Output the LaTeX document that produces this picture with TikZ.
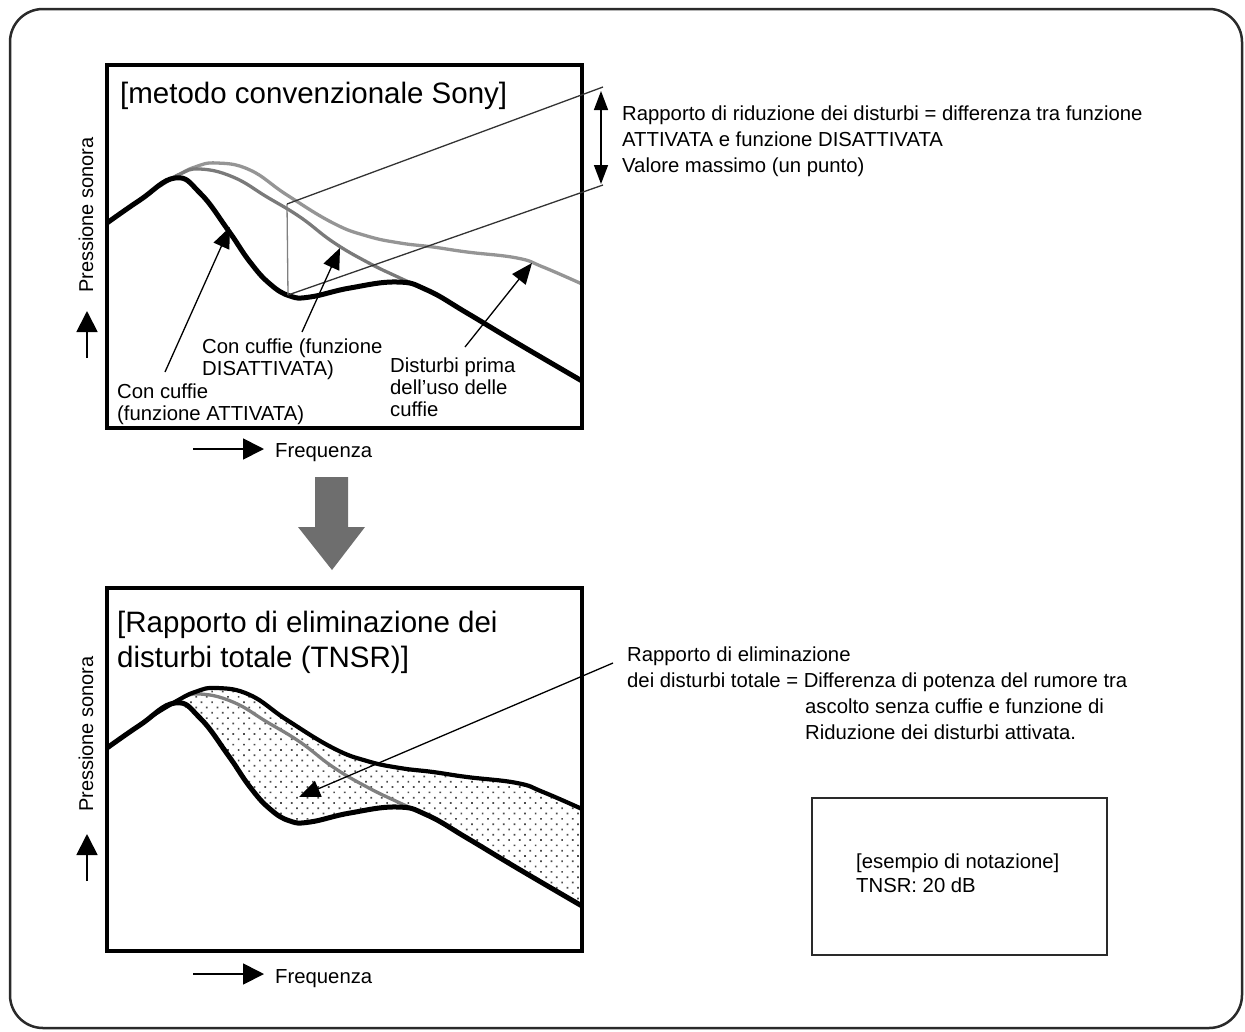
\documentclass[tikz,border=0pt]{standalone}
\usepackage{fontspec}
\setmainfont{Liberation Sans}
\usetikzlibrary{arrows.meta,patterns.meta}
\definecolor{offgray}{HTML}{7A7A7A}
\definecolor{noisegray}{HTML}{959595}
\definecolor{bigarrowgray}{HTML}{6E6E6E}
\definecolor{framegray}{HTML}{2A2A2A}
\begin{document}
\begin{tikzpicture}[x=1pt,y=-1pt,
  txt/.style={font=\fontsize{20.3}{24}\selectfont, inner sep=0pt, anchor=base west},
  ttl/.style={font=\fontsize{29.5}{35}\selectfont, inner sep=0pt, anchor=base west},
  ylab/.style={font=\fontsize{20}{24}\selectfont, inner sep=0pt, rotate=90},
  chartframe/.style={line width=4pt},
  oncurve/.style={line width=5pt, line join=round},
  offcurve/.style={line width=3.3pt, color=offgray},
  noisecurve/.style={line width=3.3pt, color=noisegray},
  ptr/.style={line width=1.3pt, -{Triangle[length=21pt,width=17pt]}},
  axarrow/.style={line width=1.8pt, -{Triangle[length=21pt,width=21pt]}},
  ann/.style={line width=1.3pt, color=black!80},
  sm/.style={smooth, tension=0.75},
]
\useasboundingbox (0,0) rectangle (1245,1031);
% outer frame
\draw[line width=2.5pt, color=framegray, rounded corners=33pt] (10,9) rectangle (1242,1028);

% ---------------- top chart ----------------
\draw[noisecurve] plot[sm] coordinates {(150,192) (175,177) (195,167) (217,163) (250,170) (287,195) (333,223) (367,236) (400,243) (433,247) (467,252) (517,258) (543,267) (582,284)};
\draw[offcurve] plot[sm] coordinates {(160,186) (180,174) (200,169) (233,177) (267,197) (300,217) (333,242) (367,262) (400,278) (433,293) (467,313) (517,343) (582,381)};
\draw[oncurve] plot[sm] coordinates {(107,223) (140,200) (175,178) (200,193) (228,230) (250,262) (270,284) (290,296) (310,297) (350,288) (397,282) (427,290) (467,313) (517,343) (582,381)};
\draw[chartframe] (107,65) rectangle (582,428);

\node[ttl] (title1) at (120,103) {[metodo convenzionale Sony]};

% annotation of max difference
\coordinate (vtop) at (287,204);
\coordinate (vbot) at (288,295);
\coordinate (dtop) at (603,87);
\coordinate (dbot) at (603,185);
\draw[line width=1.3pt, color=gray] (vtop) -- (vbot);
\draw[ann] (vtop) -- (dtop);
\draw[ann] (vbot) -- (dbot);
\coordinate (da1) at (601,91);
\coordinate (da2) at (601,184);
\draw[line width=1.5pt, {Triangle[length=19pt,width=14pt]}-{Triangle[length=19pt,width=14pt]}] (da1) -- (da2);

\node[txt] (r1) at (622,120) {Rapporto di riduzione dei disturbi = differenza tra funzione};
\node[txt] (r2) at (622,146) {ATTIVATA e funzione DISATTIVATA};
\node[txt] (r3) at (622,172) {Valore massimo (un punto)};

% pointers
\node[txt] (on1) at (117,398) {Con cuffie};
\node[txt] (on2) at (117,420) {(funzione ATTIVATA)};
\node[txt] (off1) at (202,353) {Con cuffie (funzione};
\node[txt] (off2) at (202,375) {DISATTIVATA)};
\node[txt] (nb1) at (390,372) {Disturbi prima};
\node[txt] (nb2) at (390,394) {dell'uso delle};
\node[txt] (nb3) at (390,416) {cuffie};
\coordinate (pon) at (165,372);
\coordinate (ton) at (230,227);
\coordinate (poff) at (302,332);
\coordinate (toff) at (340,248);
\coordinate (pnb) at (465,347);
\coordinate (tnb) at (532,263);
\draw[ptr] (pon) -- (ton);
\draw[ptr] (poff) -- (toff);
\draw[ptr] (pnb) -- (tnb);

% axes labels
\node[ylab] (y1) at (86,215) {Pressione sonora};
\coordinate (ya1s) at (87,358);
\coordinate (ya1e) at (87,311);
\draw[axarrow] (ya1s) -- (ya1e);
\coordinate (xa1s) at (193,449);
\coordinate (xa1e) at (264,449);
\draw[axarrow] (xa1s) -- (xa1e);
\node[txt] (fq1) at (275,457) {Frequenza};

% big down arrow
\fill[bigarrowgray] (315,477) -- (348,477) -- (348,527) -- (365,527) -- (332,570) -- (298,527) -- (315,527) -- cycle;

% ---------------- bottom chart ----------------
\begin{scope}[yshift=-525pt]
\fill[pattern={Dots[angle=45,distance=7.5pt,radius=1.2pt]}, pattern color=black!70]
  plot[sm] coordinates {(175,177) (195,167) (217,163) (250,170) (287,195) (333,223) (367,236) (400,243) (433,247) (467,252) (517,258) (543,267) (582,284)}
  -- (582,381) --
  plot[sm] coordinates {(582,381) (517,343) (467,313) (427,290) (397,282) (350,288) (310,297) (290,296) (270,284) (250,262) (228,230) (200,193) (175,178)} -- cycle;
\draw[offcurve, color=gray] plot[sm] coordinates {(160,186) (180,174) (200,169) (233,177) (267,197) (300,217) (333,242) (367,262) (400,278) (433,293) (467,313) (517,343) (582,381)};
\draw[line width=4.2pt] plot[sm] coordinates {(150,192) (175,177) (195,167) (217,163) (250,170) (287,195) (333,223) (367,236) (400,243) (433,247) (467,252) (517,258) (543,267) (582,284)};
\draw[oncurve] plot[sm] coordinates {(107,223) (140,200) (175,178) (200,193) (228,230) (250,262) (270,284) (290,296) (310,297) (350,288) (397,282) (427,290) (467,313) (517,343) (582,381)};
\end{scope}
\draw[chartframe] (107,588) rectangle (582,951);

\node[ttl] (title2a) at (117,632) {[Rapporto di eliminazione dei};
\node[ttl] (title2b) at (117,667) {disturbi totale (TNSR)]};

\coordinate (bps) at (613,663);
\coordinate (bpt) at (299,797);
\draw[ptr] (bps) -- (bpt);

\node[txt] (b1) at (627,661) {Rapporto di eliminazione};
\node[txt] (b2) at (627,687) {dei disturbi totale = Differenza di potenza del rumore tra};
\node[txt] (b3) at (805,713) {ascolto senza cuffie e funzione di};
\node[txt] (b4) at (805,739) {Riduzione dei disturbi attivata.};

\node[ylab] (y2) at (86,734) {Pressione sonora};
\coordinate (ya2s) at (87,881);
\coordinate (ya2e) at (87,834);
\draw[axarrow] (ya2s) -- (ya2e);
\coordinate (xa2s) at (193,974);
\coordinate (xa2e) at (264,974);
\draw[axarrow] (xa2s) -- (xa2e);
\node[txt] (fq2) at (275,983) {Frequenza};

% example box
\draw[line width=2pt, color=framegray] (812,798) rectangle (1107,955);
\node[txt] (ex1) at (856,868) {[esempio di notazione]};
\node[txt] (ex2) at (856,892) {TNSR: 20 dB};
\end{tikzpicture}
\end{document}
